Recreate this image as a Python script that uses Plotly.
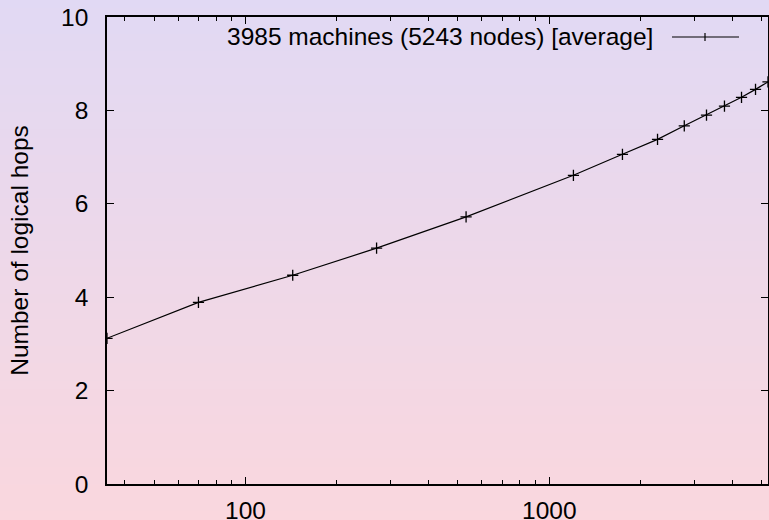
import plotly.graph_objects as go

# Data
machines = [35, 70, 143, 270, 532, 1200, 1740, 2270, 2780, 3290, 3770, 4290, 4770, 5243]
hops = [3.12, 3.89, 4.47, 5.05, 5.72, 6.61, 7.06, 7.38, 7.67, 7.90, 8.09, 8.28, 8.45, 8.61]
series_name = "3985 machines (5243 nodes) [average]"
y_title = "Number of logical hops"
x_major = [100, 1000]
x_major_text = ["100", "1000"]
x_minor = [40, 50, 60, 70, 80, 90, 200, 300, 400, 500, 600, 700, 800, 900,
           2000, 3000, 4000, 5000]
y_ticks = [0, 2, 4, 6, 8, 10]

W, H = 769, 520
ML, MR, MT, MB = 107, 1, 17, 36
PW, PH = W - ML - MR, H - MT - MB

FONT = "Liberation Sans, Arial, Helvetica, sans-serif"
FS = 24.5

def px2paper(px, py):
    return (px - ML) / PW, (H - MB - py) / PH

fig = go.Figure()
fig.add_trace(go.Scatter(
    x=machines, y=hops, mode="lines+markers", name=series_name,
    line=dict(color="black", width=1.2),
    marker=dict(symbol="cross-thin", size=8, line=dict(color="black", width=1.3)),
    showlegend=False,
))

# background gradient (lavender -> pink)
top = (225, 217, 244)
bot = (250, 215, 222)
N = 60
shapes = []
y0p = -MB / PH
y1p = (PH + MT) / PH
x0p = -ML / PW
x1p = (PW + MR) / PW
for i in range(N):
    t = (i + 0.5) / N
    c = tuple(round(top[k] + (bot[k] - top[k]) * t) for k in range(3))
    ya = y1p - (y1p - y0p) * i / N
    yb = y1p - (y1p - y0p) * (i + 1) / N
    shapes.append(dict(type="rect", xref="paper", yref="paper",
                       x0=x0p, x1=x1p, y0=yb - 0.002, y1=ya + 0.002,
                       fillcolor="rgb(%d,%d,%d)" % c, line=dict(width=0),
                       layer="below"))

# legend sample (line with a + mark) to the right of the text
lx0, ly = px2paper(672, 37)
lx1, _ = px2paper(739, 37)
mx, _ = px2paper(705, 37)
_, my0 = px2paper(0, 33)
_, my1 = px2paper(0, 41)
shapes.append(dict(type="line", xref="paper", yref="paper", x0=lx0, x1=lx1, y0=ly, y1=ly,
                   line=dict(color="black", width=1.2)))
shapes.append(dict(type="line", xref="paper", yref="paper", x0=mx, x1=mx, y0=my0, y1=my1,
                   line=dict(color="black", width=1.2)))

ax_, ay_ = px2paper(655, 36.5)
annotations = [dict(text=series_name, xref="paper", yref="paper", x=ax_, y=ay_,
                    xanchor="right", yanchor="middle", showarrow=False,
                    font=dict(family=FONT, size=FS, color="black"))]

fig.update_layout(
    width=W, height=H,
    margin=dict(l=ML, r=MR, t=MT, b=MB, pad=0),
    paper_bgcolor="rgba(0,0,0,0)",
    plot_bgcolor="rgba(0,0,0,0)",
    font=dict(family=FONT, size=FS, color="black"),
    shapes=shapes,
    annotations=annotations,
    showlegend=False,
)
fig.update_xaxes(
    type="log", range=[1.5441, 3.7196], automargin=False,
    tickmode="array", tickvals=x_major, ticktext=x_major_text,
    ticks="inside", ticklen=7, tickwidth=1.3, tickcolor="black",
    showline=True, linecolor="black", linewidth=1.5, mirror="ticks",
    showgrid=False, zeroline=False,
    minor=dict(tickmode="array", tickvals=x_minor, ticks="inside", ticklen=4,
               tickwidth=1.3, tickcolor="black", showgrid=False),
    ticklabelstandoff=4,
)
fig.update_yaxes(
    range=[0, 10], tickmode="array", tickvals=y_ticks, automargin=False,
    ticks="inside", ticklen=7, tickwidth=1.3, tickcolor="black",
    showline=True, linecolor="black", linewidth=1.5, mirror="ticks",
    showgrid=False, zeroline=False,
    ticklabelstandoff=12,
    title=dict(text=y_title, font=dict(family=FONT, size=FS), standoff=26),
)

fig.write_html("out.html")
